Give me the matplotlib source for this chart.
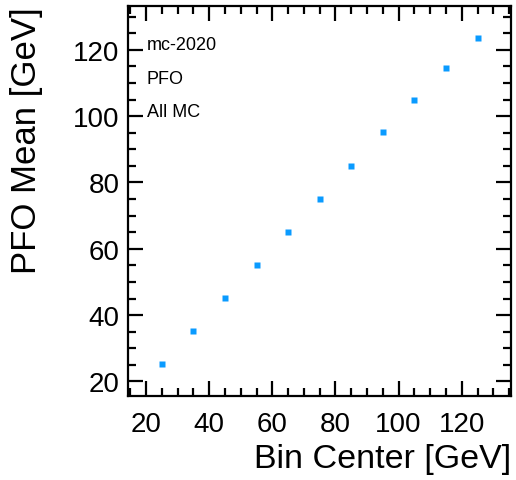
import matplotlib
matplotlib.use("Agg")
import matplotlib.pyplot as plt
from matplotlib.ticker import MultipleLocator

plt.rcParams['font.family'] = ['Liberation Sans', 'DejaVu Sans']

bin_center = [25, 35, 45, 55, 65, 75, 85, 95, 105, 115, 125]
pfo_mean = [25.2, 35.2, 45.1, 55.0, 65.0, 75.0, 85.1, 95.1, 104.9, 114.6, 123.6]
labels = ["mc-2020", "PFO", "All MC"]

fig = plt.figure(figsize=(5.16, 4.81), dpi=100)
ax = fig.add_axes([128/516, 1-397/481, (511-128)/516, (397-7)/481])

ax.plot(bin_center, pfo_mean, linestyle='none', marker='s', ms=3.8,
        mec='none', color='#0a9bff')

ax.set_xlim(14.3, 135.6)
ax.set_ylim(15.6, 133.2)
ax.xaxis.set_major_locator(MultipleLocator(20))
ax.xaxis.set_minor_locator(MultipleLocator(5))
ax.yaxis.set_major_locator(MultipleLocator(20))
ax.yaxis.set_minor_locator(MultipleLocator(5))

for s in ax.spines.values():
    s.set_linewidth(1.6)
ax.tick_params(which='both', direction='in', top=True, right=True,
               labelsize=20, width=1.6)
ax.tick_params(which='major', length=11)
ax.tick_params(axis='x', which='major', pad=11)
ax.tick_params(axis='y', which='major', pad=6)
ax.tick_params(which='minor', length=5.5)

ax.set_xlabel("Bin Center [GeV]", fontsize=24.5, loc='right', labelpad=4)
ax.set_ylabel("PFO Mean [GeV]", fontsize=25, loc='top', labelpad=22)

ys = [50.5, 84, 116.7]
for t, yp in zip(labels, ys):
    fig.text(147/516, 1-yp/481, t, fontsize=13, ha='left', va='baseline')

fig.savefig("out.png", dpi=100)
